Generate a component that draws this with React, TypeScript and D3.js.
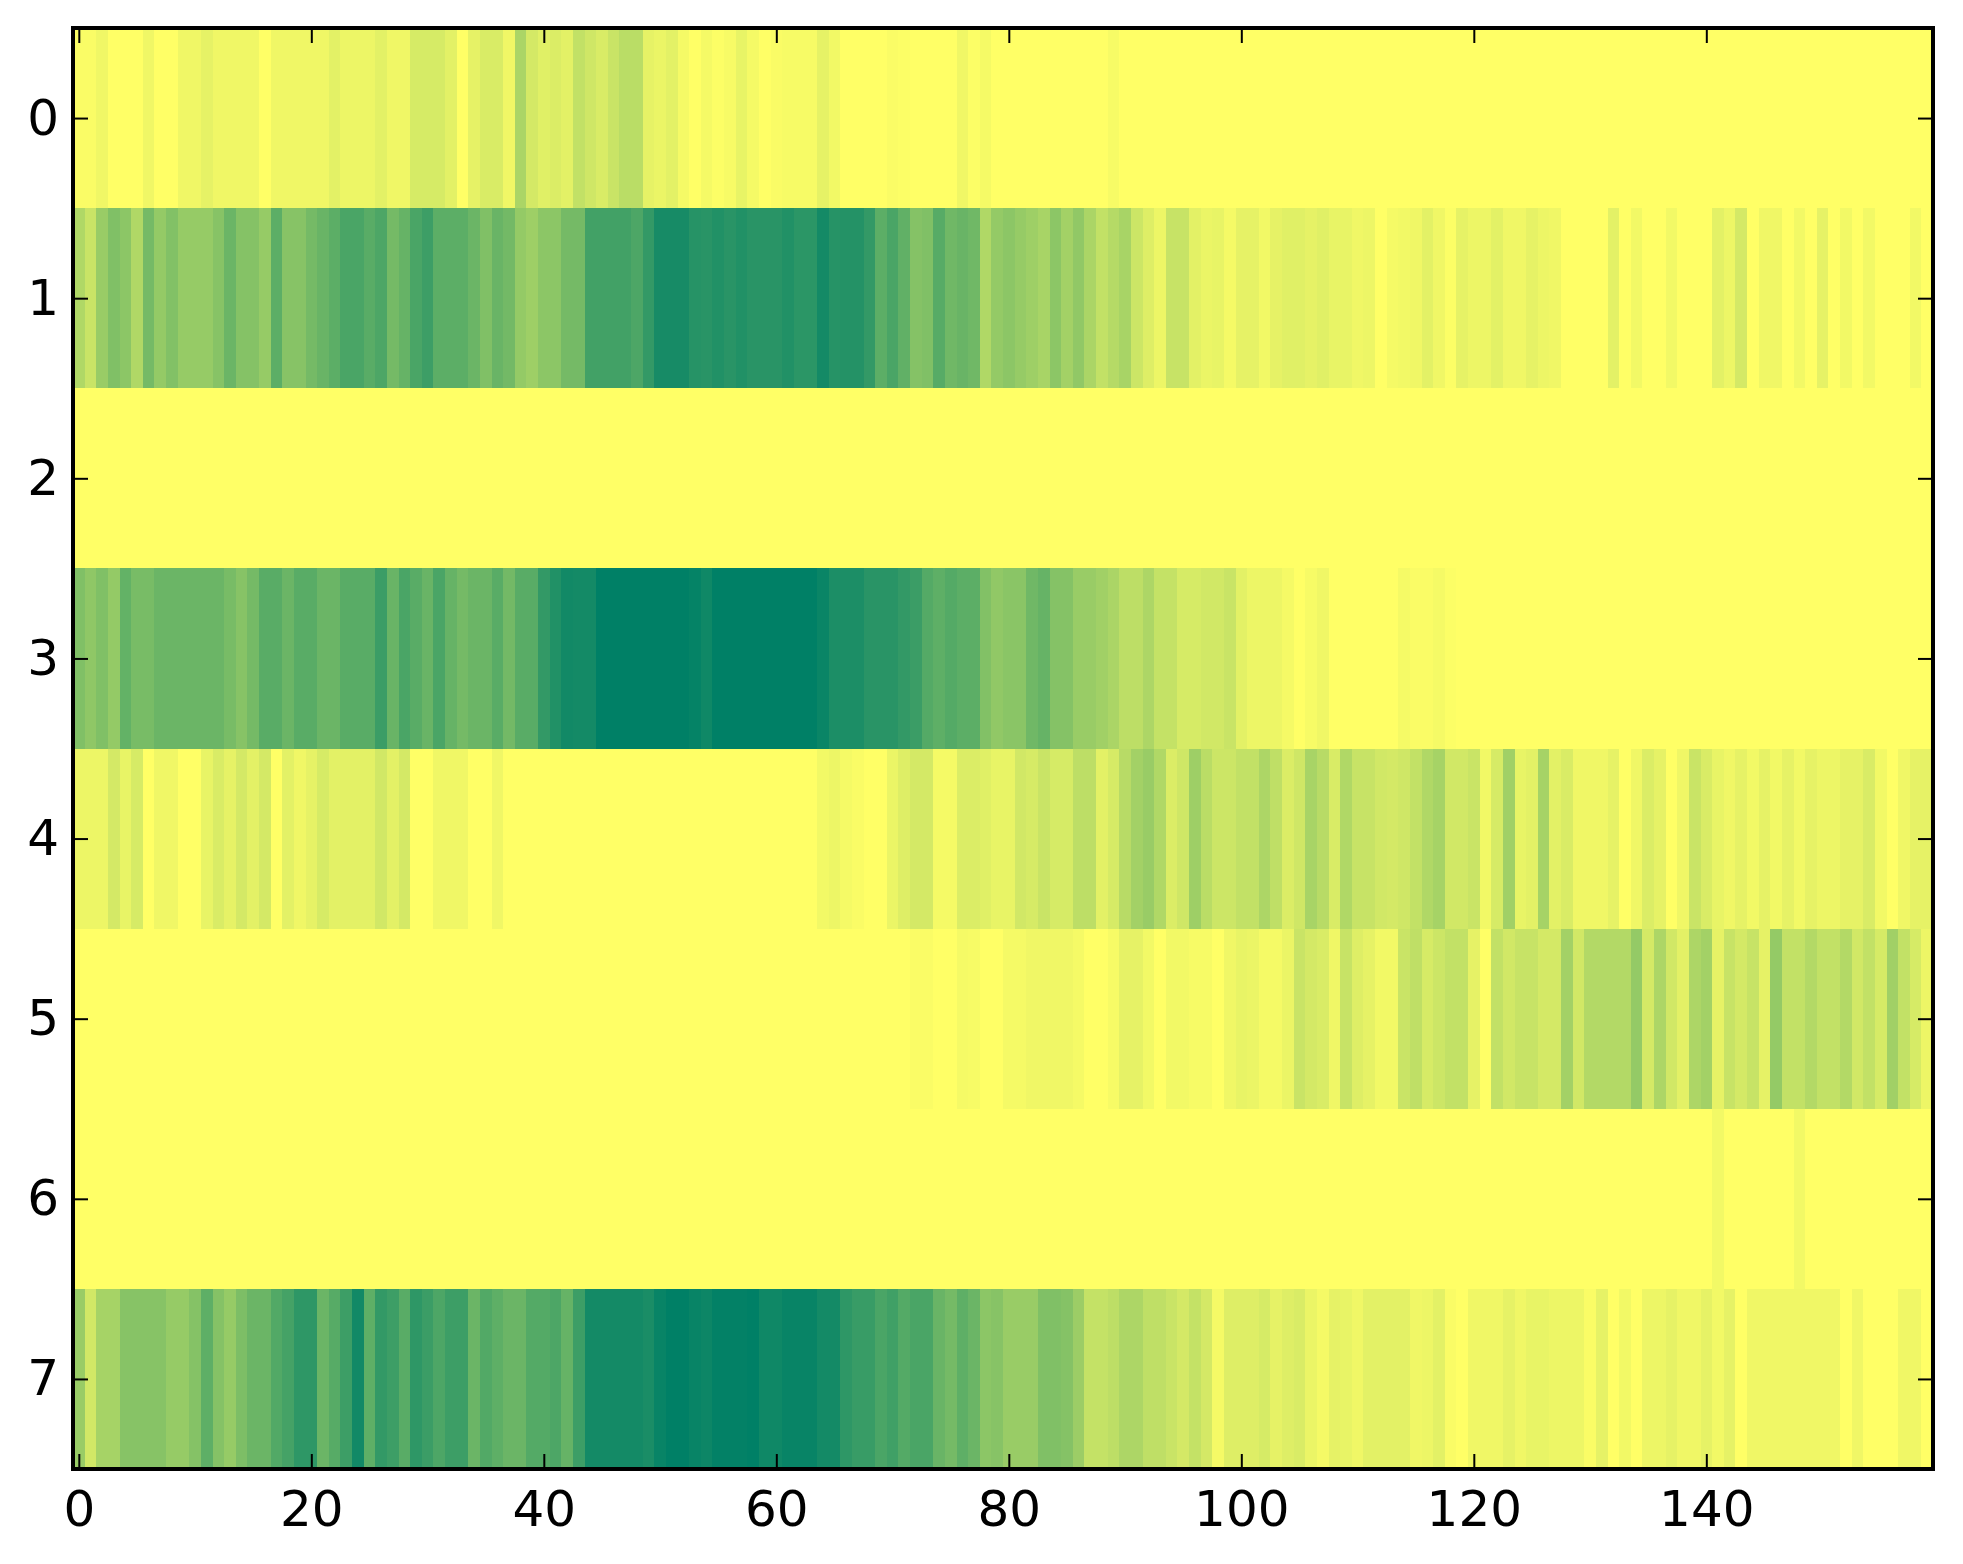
import * as d3 from 'd3';
import { useEffect, useRef } from 'react';

const WIDTH = 1963;
const HEIGHT = 1564;

const xTicks = [0, 20, 40, 60, 80, 100, 120, 140];
const yTicks = [0, 1, 2, 3, 4, 5, 6, 7];

const row0 = [
  2, 2, 6, 0, 0, 0, 6, 0, 0, 6,
  6, 10, 6, 6, 6, 6, 0, 6, 6, 6,
  6, 6, 11, 7, 7, 7, 11, 6, 6, 16,
  16, 16, 11, 0, 10, 15, 15, 6, 33, 17,
  12, 14, 11, 24, 19, 15, 21, 27, 27, 10,
  8, 11, 4, 0, 4, 1, 3, 9, 4, 0,
  2, 3, 3, 3, 10, 5, 0, 0, 0, 0,
  2, 1, 0, 0, 0, 0, 6, 1, 4, 0,
  0, 0, 0, 0, 0, 0, 0, 0, 0, 3,
  0, 0, 0, 0, 0, 0, 0, 0, 0, 0,
  0, 0, 0, 0, 0, 0, 0, 0, 0, 0,
  0, 0, 0, 0, 0, 0, 0, 0, 0, 0,
  0, 0, 0, 0, 0, 0, 0, 0, 0, 0,
  0, 0, 0, 0, 0, 0, 0, 0, 0, 0,
  0, 0, 0, 0, 0, 0, 0, 0, 0, 0,
  0, 0, 0, 0, 0, 0, 0, 0, 0, 0,
];

const row1 = [
  31, 21, 40, 50, 45, 31, 54, 42, 49, 41,
  41, 41, 47, 58, 48, 48, 41, 64, 47, 47,
  54, 59, 64, 71, 71, 65, 70, 54, 60, 71,
  76, 64, 64, 64, 58, 50, 59, 55, 42, 38,
  45, 45, 54, 54, 74, 74, 74, 74, 70, 80,
  91, 91, 91, 85, 84, 87, 84, 87, 84, 84,
  84, 87, 83, 83, 92, 85, 86, 86, 80, 64,
  71, 62, 48, 50, 66, 56, 59, 56, 31, 42,
  45, 41, 38, 34, 45, 36, 43, 33, 24, 29,
  34, 20, 13, 7, 22, 22, 11, 8, 9, 4,
  10, 10, 5, 10, 12, 12, 10, 12, 9, 9,
  6, 7, 0, 4, 5, 6, 11, 6, 1, 10,
  7, 7, 11, 6, 6, 10, 7, 6, 0, 0,
  0, 0, 11, 0, 5, 0, 0, 5, 0, 0,
  0, 11, 7, 17, 0, 6, 6, 0, 5, 0,
  10, 0, 5, 0, 5, 0, 0, 0, 5, 0,
];

const row2 = [
  0, 0, 0, 0, 0, 0, 0, 0, 0, 0,
  0, 0, 0, 0, 0, 0, 0, 0, 0, 0,
  0, 0, 0, 0, 0, 0, 0, 0, 0, 0,
  0, 0, 0, 0, 0, 0, 0, 0, 0, 0,
  0, 0, 0, 0, 0, 0, 0, 0, 0, 0,
  0, 0, 0, 0, 0, 0, 0, 0, 0, 0,
  0, 0, 0, 0, 0, 0, 0, 0, 0, 0,
  0, 0, 0, 0, 0, 0, 0, 0, 0, 0,
  0, 0, 0, 0, 0, 0, 0, 0, 0, 0,
  0, 0, 0, 0, 0, 0, 0, 0, 0, 0,
  0, 0, 0, 0, 0, 0, 0, 0, 0, 0,
  0, 0, 0, 0, 0, 0, 0, 0, 0, 0,
  0, 0, 0, 0, 0, 0, 0, 0, 0, 0,
  0, 0, 0, 0, 0, 0, 0, 0, 0, 0,
  0, 0, 0, 0, 0, 0, 0, 0, 0, 0,
  0, 0, 0, 0, 0, 0, 0, 0, 0, 0,
];

const row3 = [
  50, 44, 50, 42, 61, 53, 53, 58, 58, 58,
  58, 58, 58, 53, 47, 54, 65, 65, 58, 65,
  65, 58, 58, 65, 65, 65, 77, 59, 71, 65,
  59, 71, 60, 54, 58, 58, 65, 55, 65, 65,
  80, 87, 93, 92, 92, 100, 100, 100, 100, 100,
  100, 100, 100, 98, 94, 100, 100, 100, 100, 100,
  100, 100, 100, 100, 96, 89, 89, 89, 84, 84,
  84, 80, 77, 67, 63, 67, 64, 64, 49, 43,
  46, 46, 56, 60, 48, 48, 40, 40, 37, 33,
  26, 26, 32, 23, 23, 16, 16, 18, 18, 21,
  11, 7, 7, 7, 4, 0, 3, 6, 0, 0,
  0, 0, 0, 0, 4, 2, 2, 4, 1, 0,
  0, 0, 0, 0, 0, 0, 0, 0, 0, 0,
  0, 0, 0, 0, 0, 0, 0, 0, 0, 0,
  0, 0, 0, 0, 0, 0, 0, 0, 0, 0,
  0, 0, 0, 0, 0, 0, 0, 0, 0, 0,
];

const row4 = [
  7, 7, 7, 17, 9, 16, 0, 6, 6, 0,
  0, 9, 15, 10, 17, 11, 17, 0, 11, 6,
  10, 16, 11, 11, 11, 11, 18, 11, 17, 0,
  0, 6, 6, 6, 0, 0, 6, 0, 0, 0,
  0, 0, 0, 0, 0, 0, 0, 0, 0, 0,
  0, 0, 0, 0, 0, 0, 0, 0, 0, 0,
  0, 0, 0, 0, 5, 7, 4, 2, 0, 0,
  8, 13, 17, 17, 4, 4, 14, 14, 12, 9,
  9, 18, 16, 21, 16, 16, 26, 26, 11, 16,
  28, 36, 40, 31, 14, 19, 38, 27, 20, 20,
  24, 24, 32, 25, 14, 19, 34, 28, 15, 31,
  22, 22, 18, 17, 19, 24, 31, 35, 18, 18,
  21, 5, 16, 37, 9, 11, 35, 11, 15, 6,
  6, 6, 10, 0, 6, 14, 10, 0, 6, 21,
  15, 9, 6, 10, 5, 10, 5, 10, 5, 10,
  7, 7, 10, 10, 15, 5, 0, 6, 10, 10,
];

const row5 = [
  0, 0, 0, 0, 0, 0, 0, 0, 0, 0,
  0, 0, 0, 0, 0, 0, 0, 0, 0, 0,
  0, 0, 0, 0, 0, 0, 0, 0, 0, 0,
  0, 0, 0, 0, 0, 0, 0, 0, 0, 0,
  0, 0, 0, 0, 0, 0, 0, 0, 0, 0,
  0, 0, 0, 0, 0, 0, 0, 0, 0, 0,
  0, 0, 0, 0, 0, 0, 0, 0, 0, 0,
  0, 0, 2, 2, 0, 0, 4, 3, 0, 0,
  4, 4, 6, 6, 6, 6, 4, 0, 0, 3,
  10, 10, 5, 0, 5, 5, 3, 3, 0, 6,
  9, 8, 4, 4, 8, 21, 17, 15, 6, 22,
  13, 10, 5, 5, 21, 25, 16, 20, 24, 24,
  10, 0, 24, 18, 22, 22, 17, 17, 36, 18,
  30, 30, 30, 30, 42, 17, 32, 18, 11, 32,
  36, 10, 22, 17, 22, 10, 42, 24, 24, 30,
  24, 24, 30, 18, 24, 16, 37, 24, 16, 7,
];

const row6 = [
  0, 0, 0, 0, 0, 0, 0, 0, 0, 0,
  0, 0, 0, 0, 0, 0, 0, 0, 0, 0,
  0, 0, 0, 0, 0, 0, 0, 0, 0, 0,
  0, 0, 0, 0, 0, 0, 0, 0, 0, 0,
  0, 0, 0, 0, 0, 0, 0, 0, 0, 0,
  0, 0, 0, 0, 0, 0, 0, 0, 0, 0,
  0, 0, 0, 0, 0, 0, 0, 0, 0, 0,
  0, 0, 0, 0, 0, 0, 0, 0, 0, 0,
  0, 0, 0, 0, 0, 0, 0, 0, 0, 0,
  0, 0, 0, 0, 0, 0, 0, 0, 0, 0,
  0, 0, 0, 0, 0, 0, 0, 0, 0, 0,
  0, 0, 0, 0, 0, 0, 0, 0, 0, 0,
  0, 0, 0, 0, 0, 0, 0, 0, 0, 0,
  0, 0, 0, 0, 0, 0, 0, 0, 0, 0,
  0, 5, 0, 0, 0, 0, 0, 0, 5, 0,
  0, 0, 0, 0, 0, 0, 0, 0, 0, 0,
];

const row7 = [
  40, 18, 35, 35, 47, 47, 47, 47, 41, 41,
  48, 63, 48, 41, 51, 58, 58, 68, 73, 82,
  82, 58, 66, 76, 93, 63, 80, 76, 65, 82,
  77, 70, 76, 76, 58, 68, 63, 58, 58, 67,
  67, 70, 60, 76, 92, 92, 92, 92, 92, 90,
  97, 100, 100, 97, 95, 99, 99, 99, 100, 94,
  94, 97, 97, 97, 92, 92, 82, 78, 78, 71,
  75, 67, 71, 71, 59, 54, 63, 58, 45, 47,
  40, 40, 40, 50, 50, 48, 39, 23, 23, 26,
  32, 32, 25, 25, 21, 17, 23, 17, 4, 13,
  13, 13, 16, 10, 13, 15, 8, 4, 10, 9,
  6, 11, 11, 11, 11, 6, 7, 11, 2, 0,
  6, 6, 6, 10, 6, 9, 9, 7, 7, 7,
  2, 10, 0, 5, 0, 7, 7, 10, 6, 6,
  10, 5, 10, 0, 6, 6, 6, 6, 6, 6,
  6, 6, 0, 6, 0, 0, 0, 6, 6, 0,
];

const rows = [row0, row1, row2, row3, row4, row5, row6, row7];

export default function App() {
  const svgRef = useRef<SVGSVGElement | null>(null);

  useEffect(() => {
    if (!svgRef.current) {
      return;
    }

    const svg = d3.select(svgRef.current);
    svg.selectAll('*').remove();

    const x = d3.scaleLinear().domain([-0.5, 159.5]).range([73, 1933]);
    const y = d3.scaleLinear().domain([-0.5, 7.5]).range([28, 1469]);

    // summer_r
    const color = d3.scaleLinear<string>().domain([0, 100]).range(['#ffff66', '#008066']);

    const cells = rows.flatMap((values, row) =>
      values.map((value, col) => ({ row, col, value })),
    );

    svg
      .append('g')
      .attr('shape-rendering', 'crispEdges')
      .selectAll('rect')
      .data(cells)
      .join('rect')
      .attr('x', (d) => x(d.col - 0.5))
      .attr('y', (d) => y(d.row - 0.5))
      .attr('width', (d) => x(d.col + 0.5) - x(d.col - 0.5) + 0.5)
      .attr('height', (d) => y(d.row + 0.5) - y(d.row - 0.5) + 0.5)
      .attr('fill', (d) => color(d.value));

    const styleAxis = (g: d3.Selection<SVGGElement, unknown, null, undefined>) => {
      g.select('.domain').remove();
      g.selectAll('line').attr('stroke', '#000').attr('stroke-width', 2);
      g.selectAll('text')
        .attr('fill', '#000')
        .attr('font-family', '"DejaVu Sans"')
        .attr('font-size', 50);
    };

    svg
      .append('g')
      .attr('transform', 'translate(0,1469)')
      .call(d3.axisBottom(x).tickValues(xTicks).tickFormat(d3.format('d')).tickSize(-15).tickPadding(21))
      .call(styleAxis);
    svg
      .append('g')
      .attr('transform', 'translate(0,28)')
      .call(d3.axisTop(x).tickValues(xTicks).tickFormat(() => '').tickSize(-15))
      .call(styleAxis);
    svg
      .append('g')
      .attr('transform', 'translate(73,0)')
      .call(d3.axisLeft(y).tickValues(yTicks).tickFormat(d3.format('d')).tickSize(-15).tickPadding(14))
      .call(styleAxis);
    svg
      .append('g')
      .attr('transform', 'translate(1933,0)')
      .call(d3.axisRight(y).tickValues(yTicks).tickFormat(() => '').tickSize(-15))
      .call(styleAxis);

    svg
      .append('rect')
      .attr('x', x(-0.5))
      .attr('y', y(-0.5))
      .attr('width', x(159.5) - x(-0.5))
      .attr('height', y(7.5) - y(-0.5))
      .attr('fill', 'none')
      .attr('stroke', '#000')
      .attr('stroke-width', 4);
  }, []);

  return (
    <svg
      ref={svgRef}
      width={WIDTH}
      height={HEIGHT}
      style={{ position: 'absolute', left: 0, top: 0, background: '#fff' }}
    />
  );
}
